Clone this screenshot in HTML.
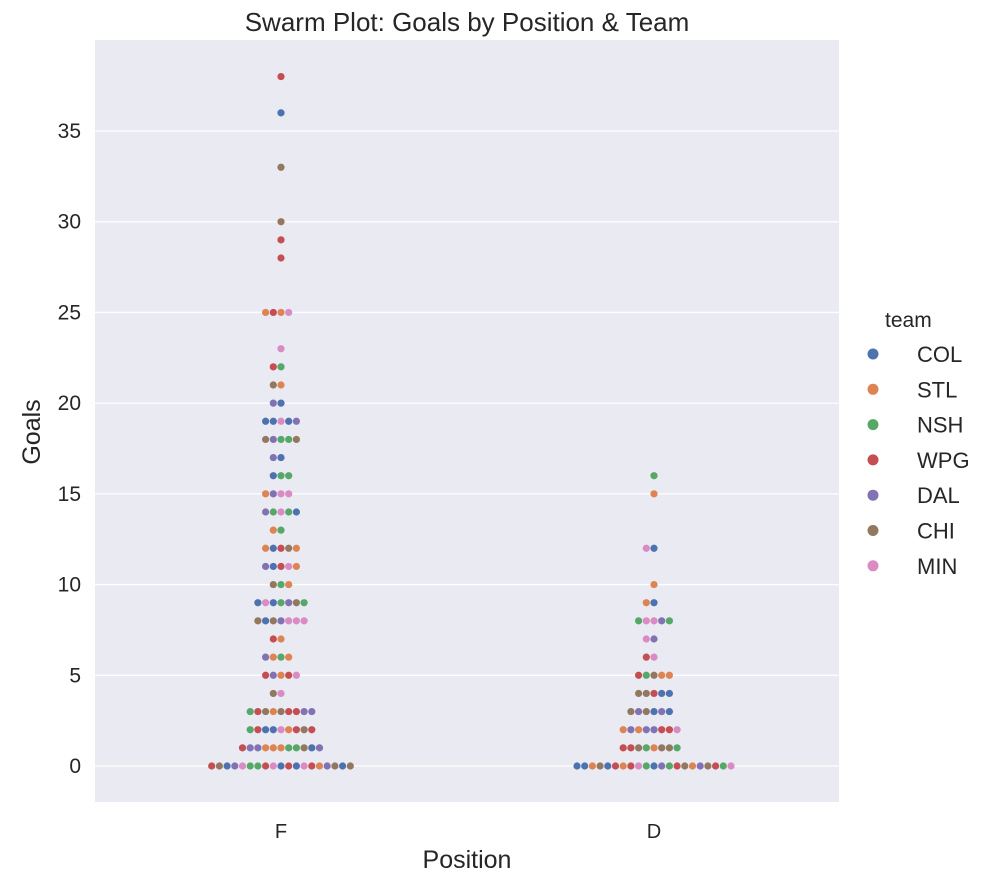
<!DOCTYPE html>
<html><head><meta charset="utf-8"><style>
body{margin:0;background:#fff;}
svg{display:block;font-family:"Liberation Sans",Arial,sans-serif;}
</style></head><body>
<svg id="chart" width="994" height="884" xmlns="http://www.w3.org/2000/svg">
<rect x="95" y="40" width="744" height="762" fill="#EAEAF2"/>
<g id="grid"></g>
<g id="dots"></g>
<g id="yticks"></g>
<text x="467" y="31" text-anchor="middle" font-size="26" fill="#262626">Swarm Plot: Goals by Position &amp; Team</text>
<text transform="translate(40,432) rotate(-90)" text-anchor="middle" font-size="25" fill="#262626">Goals</text>
<text x="281" y="838" text-anchor="middle" font-size="20" fill="#262626">F</text>
<text x="654" y="838" text-anchor="middle" font-size="20" fill="#262626">D</text>
<text x="467" y="868" text-anchor="middle" font-size="25" fill="#262626">Position</text>
<g id="legend">
<text x="885" y="327" font-size="21" fill="#262626">team</text>
</g>
</svg>
<script>
const teams=["COL","STL","NSH","WPG","DAL","CHI","MIN"];
const colors={b:"#4C72B0",o:"#DD8452",g:"#55A868",r:"#C44E52",p:"#8172B3",n:"#937860",k:"#DA8BC3"};
const teamCodes=["b","o","g","r","p","n","k"];
const yTicks=[0,5,10,15,20,25,30,35];
// rows: [goals, colour codes left-to-right]
const fRows=[[38,"r"],[36,"b"],[33,"n"],[30,"n"],[29,"r"],[28,"r"],
[25,"orok"],[23,"k"],[22,"rg"],[21,"no"],[20,"pb"],[19,"bbkbp"],[18,"npggn"],[17,"pb"],[16,"bgg"],[15,"opkk"],[14,"pgkgb"],[13,"og"],[12,"obrno"],[11,"pbrko"],
[10,"ngo"],[9,"bkbgpng"],[8,"nbnpkkk"],[7,"ro"],[6,"pogo"],[5,"rpork"],[4,"nk"],[3,"grnonrrpp"],[2,"grbbkornr"],[1,"rppoooggnbp"],
[0,"rnbpkggrkbrbkropnbn"]];
const dRows=[[16,"g"],[15,"o"],[12,"kb"],[10,"o"],[9,"ob"],[8,"gkkpg"],[7,"kp"],[6,"rk"],[5,"rgnoo"],[4,"nnrbb"],[3,"npnbpb"],[2,"opopprrk"],[1,"rrngonng"],
[0,"bbonbrorkgbpgrnopnrgk"]];
const NS="http://www.w3.org/2000/svg";
const y0=766, pxPer=(766-131)/35;
function ys(v){return y0-v*pxPer;}
const grid=document.getElementById('grid'), yt=document.getElementById('yticks');
yTicks.forEach(t=>{
  const l=document.createElementNS(NS,'line');
  l.setAttribute('x1',95);l.setAttribute('x2',839);l.setAttribute('y1',ys(t));l.setAttribute('y2',ys(t));
  l.setAttribute('stroke','#fff');l.setAttribute('stroke-width','1.3');
  
  
  grid.appendChild(l);
  const tx=document.createElementNS(NS,'text');
  tx.setAttribute('x',81);tx.setAttribute('y',ys(t)+7);tx.setAttribute('text-anchor','end');
  tx.setAttribute('font-size','21');tx.setAttribute('fill','#262626');
  tx.textContent=t;
  
  
  yt.appendChild(tx);
});
const dots=document.getElementById('dots');
function drawRows(rows,cx,pos){
  rows.forEach(([v,s])=>{
    const n=s.length, start=-Math.floor(n/2);
    for(let i=0;i<n;i++){
      const c=document.createElementNS(NS,'circle');
      c.setAttribute('cx',cx+(start+i)*7.7);c.setAttribute('cy',ys(v));c.setAttribute('r',3.6);
      c.setAttribute('fill',colors[s[i]]);
      
      
      dots.appendChild(c);
    }
  });
}
drawRows(fRows,281,'f');
drawRows(dRows,654,'d');
const lg=document.getElementById('legend');
teams.forEach((t,i)=>{
  const y=354+i*35.3;
  const c=document.createElementNS(NS,'circle');
  c.setAttribute('cx',873);c.setAttribute('cy',y);c.setAttribute('r',5.5);c.setAttribute('fill',colors[teamCodes[i]]);
  
  
  lg.appendChild(c);
  const tx=document.createElementNS(NS,'text');
  tx.setAttribute('x',917);tx.setAttribute('y',y+8);tx.setAttribute('font-size','22');tx.setAttribute('fill','#262626');
  tx.textContent=t;
  
  
  lg.appendChild(tx);
});
</script>
</body></html>
